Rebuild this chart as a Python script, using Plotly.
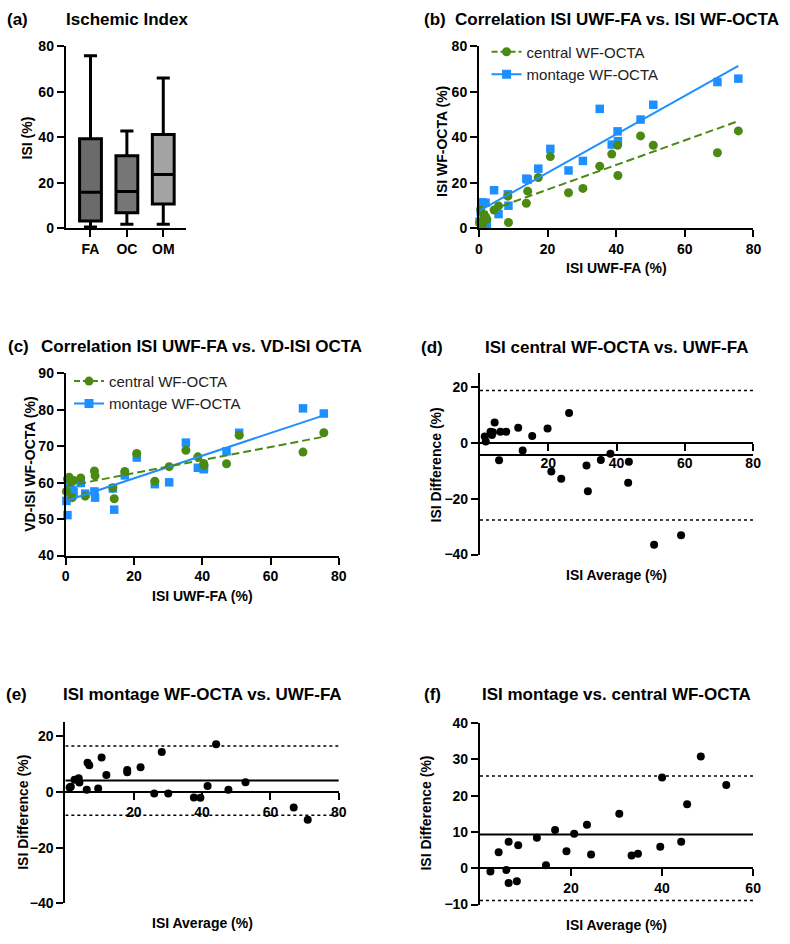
import numpy as np
import plotly.graph_objects as go

# ---------------- data ----------------
box_groups = ["FA", "OC", "OM"]
box_min = [0.5, 1.7, 1.7]
box_q1 = [3.2, 6.8, 10.7]
box_median = [15.8, 16.2, 23.6]
box_q3 = [39.4, 31.9, 41.2]
box_max = [75.9, 42.8, 66.1]
box_colors = ["#6b6b6b", "#767676", "#a3a3a3"]

fa_isi = [0.2, 0.5, 1.0, 1.4, 1.9, 2.3, 4.4, 5.7, 8.4, 8.6, 13.8, 14.2, 17.3, 20.8,
          26.1, 30.3, 35.2, 38.7, 40.4, 40.5, 47.1, 50.8, 69.5, 75.6]
central_isi = [2.5, 8.0, 1.5, 5.9, 5.1, 4.0, 8.0, 9.8, 14.1, 2.5, 11.0, 16.3, 22.3, 31.5,
               15.6, 17.5, 27.3, 32.6, 36.5, 23.2, 40.6, 36.5, 33.2, 42.8]
montage_isi = [2.9, 7.5, 11.4, 5.5, 11.2, 1.7, 16.7, 6.2, 14.9, 9.9, 21.8, 21.4, 26.2, 34.9,
               25.4, 29.6, 52.5, 36.8, 42.6, 38.3, 47.8, 54.3, 64.3, 65.8]
central_vd = [57.6, 61.0, 61.5, 60.4, 55.9, 60.6, 61.3, 56.3, 63.2, 61.9, 58.6, 55.6, 63.1, 68.0,
              60.4, 64.4, 68.9, 67.1, 65.3, 64.7, 65.2, 73.0, 68.4, 73.7]
montage_vd = [55.0, 51.1, 58.7, 57.2, 58.0, 57.5, 59.9, 57.0, 57.6, 55.9, 58.4, 52.6, 62.0, 66.9,
              59.6, 60.1, 71.0, 64.1, 63.7, 64.0, 68.6, 73.7, 80.4, 79.0]

d_avg = [1.4, 1.7, 3.1, 3.5, 3.8, 4.3, 5.6, 6.0, 7.7, 11.2, 12.5, 15.3, 19.8, 20.9, 23.8, 26.1,
         31.2, 31.6, 35.4, 38.2, 43.4, 43.6, 51.0, 58.9]
d_diff = [2.4, 0.6, 4.1, 2.9, 3.9, 7.4, -6.2, 4.1, 4.1, 5.5, -2.7, 2.5, 5.2, -10.2, -12.8, 10.8,
          -8.0, -17.3, -6.1, -3.8, -14.2, -6.7, -36.5, -33.1]
d_lines = [-4.3, 18.9, -27.6]   # bias, upper LoA, lower LoA

e_avg = [1.25, 1.6, 2.7, 3.9, 4.1, 6.25, 6.5, 7.0, 9.6, 10.6, 12.0, 18.1, 18.1, 22.0, 26.0, 28.2,
         30.1, 37.6, 39.5, 41.6, 44.1, 47.7, 52.7, 66.8, 70.9]
e_diff = [1.6, 1.9, 4.4, 4.9, 3.4, 0.8, 10.5, 9.6, 1.2, 12.4, 6.1, 7.9, 7.1, 8.9, -0.6, 14.4,
          -0.6, -2.0, -2.1, 2.1, 17.1, 0.8, 3.5, -5.6, -10.0]
e_lines = [4.1, 16.5, -8.4]

f_avg = [2.3, 4.1, 5.8, 6.3, 6.3, 8.1, 8.4, 12.5, 14.5, 16.5, 19.0, 20.7, 23.5, 24.4, 30.6, 33.3,
         34.7, 39.6, 40.0, 44.2, 45.5, 48.5, 54.1]
f_diff = [-0.9, 4.4, -0.5, 7.3, -4.1, -3.6, 6.3, 8.4, 0.8, 10.5, 4.7, 9.5, 12.0, 3.8, 15.0, 3.5,
          4.0, 5.9, 25.0, 7.3, 17.6, 30.8, 22.9]
f_lines = [9.3, 25.4, -8.9]

# ---------------- styling ----------------
W, H = 790, 944
FONT = "Liberation Sans, Arial, sans-serif"
GREEN = "#4b8a12"
BLUE = "#1e8fff"


def px(x):
    return x / W


def py(y):
    return 1 - y / H


fig = go.Figure()

# ---- (a) box plot ----
for g, lo, q1, me, q3, hi, c in zip(box_groups, box_min, box_q1, box_median, box_q3, box_max, box_colors):
    fig.add_trace(go.Box(x=[g], lowerfence=[lo], q1=[q1], median=[me], q3=[q3], upperfence=[hi],
                         fillcolor=c, line=dict(color="black", width=3), whiskerwidth=0.6,
                         width=0.6, boxpoints=False, showlegend=False, hoverinfo="skip",
                         xaxis="x", yaxis="y"))


def fit_line(x, y):
    k, b = np.polyfit(x, y, 1)
    xs = np.array([min(x), max(x)])
    return xs, k * xs + b


# ---- (b) and (c) correlation ----
for (xa, ya, yc, ym, leg) in [("x2", "y2", central_isi, montage_isi, "legend"),
                             ("x3", "y3", central_vd, montage_vd, "legend2")]:
    # legend entries
    fig.add_trace(go.Scatter(x=[None], y=[None], mode="lines+markers", name="central WF-OCTA",
                             line=dict(color=GREEN, width=2, dash="6px,3px"),
                             marker=dict(symbol="circle", size=9, color=GREEN),
                             legend=leg, xaxis=xa, yaxis=ya))
    fig.add_trace(go.Scatter(x=[None], y=[None], mode="lines+markers", name="montage WF-OCTA",
                             line=dict(color=BLUE, width=2),
                             marker=dict(symbol="square", size=9, color=BLUE),
                             legend=leg, xaxis=xa, yaxis=ya))
    fig.add_trace(go.Scatter(x=fa_isi, y=ym, mode="markers", showlegend=False,
                             marker=dict(symbol="square", size=8.5, color=BLUE),
                             cliponaxis=False, xaxis=xa, yaxis=ya))
    fig.add_trace(go.Scatter(x=fa_isi, y=yc, mode="markers", showlegend=False,
                             marker=dict(symbol="circle", size=9, color=GREEN),
                             cliponaxis=False, xaxis=xa, yaxis=ya))
    lx, ly = fit_line(fa_isi, ym)
    fig.add_trace(go.Scatter(x=lx, y=ly, mode="lines", showlegend=False,
                             line=dict(color=BLUE, width=2), xaxis=xa, yaxis=ya))
    lx, ly = fit_line(fa_isi, yc)
    fig.add_trace(go.Scatter(x=lx, y=ly, mode="lines", showlegend=False,
                             line=dict(color=GREEN, width=2, dash="8px,4px"), xaxis=xa, yaxis=ya))

# ---- (d), (e), (f) Bland-Altman ----
ba = [("x4", "y4", d_avg, d_diff, d_lines, [0, 80]),
      ("x5", "y5", e_avg, e_diff, e_lines, [0, 80]),
      ("x6", "y6", f_avg, f_diff, f_lines, [0, 60])]
shapes = []
for xa, ya, xv, yv, lines, xr in ba:
    fig.add_trace(go.Scatter(x=xv, y=yv, mode="markers", showlegend=False,
                             marker=dict(symbol="circle", size=8, color="black"),
                             cliponaxis=False, xaxis=xa, yaxis=ya))
    shapes.append(dict(type="line", xref=xa, yref=ya, x0=xr[0], x1=xr[1], y0=lines[0], y1=lines[0],
                       line=dict(color="black", width=2), layer="below"))
    for v in lines[1:]:
        shapes.append(dict(type="line", xref=xa, yref=ya, x0=xr[0], x1=xr[1], y0=v, y1=v,
                           line=dict(color="black", width=1.5, dash="dot"), layer="below"))

# ---------------- axes ----------------
axis_common = dict(showline=True, linecolor="black", linewidth=2, ticks="outside", ticklen=7,
                   tickwidth=2, tickcolor="black", showgrid=False, zeroline=False,
                   tickfont=dict(family=FONT, size=14, color="black", weight="bold"),
                   fixedrange=True)

layout_axes = {}
# (a)
layout_axes["xaxis"] = dict(axis_common, domain=[px(62.7), px(185)], range=[-0.68, 2.63],
                            type="category", anchor="y", categoryorder="array",
                            categoryarray=box_groups)
layout_axes["yaxis"] = dict(axis_common, domain=[py(224), py(39)], range=[0, 80], dtick=20,
                            anchor="x")
# (b)
layout_axes["xaxis2"] = dict(axis_common, domain=[px(482.3), px(761)], range=[0, 80], dtick=20,
                             anchor="y2")
layout_axes["yaxis2"] = dict(axis_common, domain=[py(224), py(39)], range=[0, 80], dtick=20,
                             anchor="x2")
# (c)
layout_axes["xaxis3"] = dict(axis_common, domain=[px(62.7), px(340)], range=[0, 80], dtick=20,
                             anchor="y3")
layout_axes["yaxis3"] = dict(axis_common, domain=[py(557), py(371.7)], range=[40, 90], dtick=10,
                             anchor="x3")
# (d)
d_zero = 556 - (556 - 371.7) * 40 / 65
layout_axes["xaxis4"] = dict(axis_common, domain=[px(483.3), px(760.7)], range=[0, 80],
                             tickvals=[20, 40, 60, 80], anchor="free", position=py(d_zero))
layout_axes["yaxis4"] = dict(axis_common, domain=[py(556), py(371.7)], range=[-40, 25],
                             tickvals=[-40, -20, 0, 20], anchor="x4")
# (e)
e_zero = 910.7 - (910.7 - 726.7) * 40 / 65
layout_axes["xaxis5"] = dict(axis_common, domain=[px(62.3), px(340)], range=[0, 80],
                             tickvals=[20, 40, 60, 80], anchor="free", position=py(e_zero))
layout_axes["yaxis5"] = dict(axis_common, domain=[py(910.7), py(726.7)], range=[-40, 25],
                             tickvals=[-40, -20, 0, 20], anchor="x5")
# (f)
f_zero = 912 - (912 - 727.3) * 10 / 50
layout_axes["xaxis6"] = dict(axis_common, domain=[px(483.3), px(760.7)], range=[0, 60],
                             tickvals=[20, 40, 60], anchor="free", position=py(f_zero))
layout_axes["yaxis6"] = dict(axis_common, domain=[py(912), py(727.3)], range=[-10, 40],
                             dtick=10, anchor="x6")

# ---------------- annotations ----------------
ann = []


def text(s, x, y, size, xanchor="center", angle=0, bold=True):
    ann.append(dict(text=s, x=px(x), y=py(y), xref="paper", yref="paper", showarrow=False,
                    xanchor=xanchor, yanchor="middle", textangle=angle,
                    font=dict(family=FONT, size=size, color="black",
                              weight="bold" if bold else "normal")))


TS = 17
text("(a)", 1, 12, TS, "left")
text("Ischemic Index", 124.5, 12, TS)
text("(b)", 424, 12, TS, "left")
text("Correlation ISI UWF-FA vs. ISI WF-OCTA", 456, 12, TS, "left")
text("(c)", 2, 344, TS, "left")
text("Correlation ISI UWF-FA vs. VD-ISI OCTA", 36, 344, TS, "left")
text("(d)", 421, 345, TS, "left")
text("ISI central WF-OCTA vs. UWF-FA", 622, 345, TS)
text("(e)", 0, 698, TS, "left")
text("ISI montage WF-OCTA vs. UWF-FA", 201.5, 698, TS)
text("(f)", 424, 698, TS, "left")
text("ISI montage vs. central WF-OCTA", 622, 698, TS)

AS = 14
text("ISI (%)", 23, 132, AS, angle=-90)
text("ISI WF-OCTA (%)", 444, 136, AS, angle=-90)
text("ISI UWF-FA (%)", 621.5, 264, AS)
text("VD-ISI WF-OCTA (%)", 27, 464, AS, angle=-90)
text("ISI UWF-FA (%)", 201.5, 598, AS)
text("ISI Difference (%)", 439, 465, AS, angle=-90)
text("ISI Average (%)", 622, 577, AS)
text("ISI Difference (%)", 19, 818, AS, angle=-90)
text("ISI Average (%)", 201.5, 931, AS)
text("ISI Difference (%)", 429, 819, AS, angle=-90)
text("ISI Average (%)", 622, 933, AS)

legend_common = dict(bgcolor="rgba(0,0,0,0)", borderwidth=0, xanchor="left", yanchor="top",
                     font=dict(family=FONT, size=15, color="#222"), itemwidth=30,
                     traceorder="normal", tracegroupgap=0)

fig.update_layout(
    width=W, height=H, margin=dict(l=0, r=0, t=0, b=0),
    paper_bgcolor="white", plot_bgcolor="white",
    boxmode="overlay",
    showlegend=True,
    legend=dict(legend_common, x=px(490), y=py(28)),
    legend2=dict(legend_common, x=px(66), y=py(363)),
    annotations=ann, shapes=shapes,
    **layout_axes,
)

fig.write_html("out.html")
